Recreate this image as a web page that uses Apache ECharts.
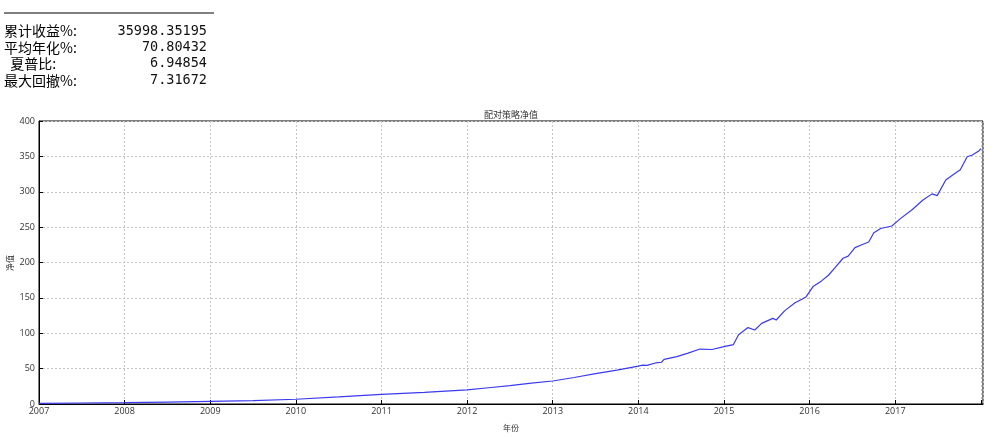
<!DOCTYPE html>
<html><head><meta charset="utf-8">
<script src="https://cdn.jsdelivr.net/npm/echarts@6/dist/echarts.min.js"></script>
<style>html,body{margin:0;padding:0;background:#fff}#c{width:999px;height:437px}</style>
</head><body><div id="c"></div>
<script>
const chartTitle = '配对策略净值';
const xName = '年份';
const yName = '净值';
const statLabels = ['累计收益%:', '平均年化%:', '  夏普比:', '最大回撤%:'];
const statValues = ['35998.35195', '70.80432', '6.94854', '7.31672'];
const yearTicks = [2007, 2008, 2009, 2010, 2011, 2012, 2013, 2014, 2015, 2016, 2017];
const years = [2007.0, 2007.5, 2008.0, 2008.5, 2009.0, 2009.5, 2010.0, 2010.5, 2011.0, 2011.5,
  2012.0, 2012.25, 2012.5, 2012.75, 2013.0, 2013.25, 2013.5, 2013.75, 2014.0, 2014.05,
  2014.1, 2014.2, 2014.27, 2014.3, 2014.45, 2014.58, 2014.72, 2014.86, 2015.0, 2015.11,
  2015.17, 2015.28, 2015.36, 2015.44, 2015.57, 2015.61, 2015.71, 2015.83, 2015.91, 2015.96,
  2016.04, 2016.14, 2016.22, 2016.3, 2016.39, 2016.45, 2016.53, 2016.61, 2016.69, 2016.75,
  2016.83, 2016.96, 2017.06, 2017.2, 2017.32, 2017.43, 2017.49, 2017.59, 2017.7, 2017.76,
  2017.84, 2017.9, 2017.98, 2018.0];
const netValues = [1.0, 1.4, 2.0, 2.7, 3.6, 4.8, 6.7, 10, 13.5, 16.5,
  20, 23, 26, 29.5, 32.5, 37.5, 43, 48, 53.5, 55,
  54.5, 58, 59, 63, 67, 72, 77.7, 77, 81, 84,
  98, 108, 104.6, 114, 121, 118.7, 132, 143, 148, 151.7,
  166, 174, 182, 193, 206, 209, 221, 225, 229, 242,
  248, 251.6, 262, 275, 288, 297, 294.5, 316.6, 326, 331,
  349.5, 352, 358, 361];

const chart = echarts.init(document.getElementById('c'), null, {renderer: 'canvas'});
const tickFont = {fontFamily: '"Liberation Sans Narrow", "Open Sans"', fontSize: 9, color: '#333'};
const graphics = [
  {type: 'line', shape: {x1: 4, y1: 13, x2: 214, y2: 13}, style: {stroke: '#000', lineWidth: 1}},
  {type: 'text', x: 10, y: 263, rotation: Math.PI / 2,
    style: {text: yName, font: '8px "Noto Sans CJK SC"', fill: '#333', align: 'center', verticalAlign: 'middle'}}
];
statLabels.forEach((l, i) => {
  graphics.push({type: 'text', x: 4, y: 24 + i * 16.4, style: {text: l, font: '14px "Noto Sans CJK SC"', fill: '#000'}});
  graphics.push({type: 'text', x: 207, y: 24 + i * 16.4, style: {text: statValues[i], font: '13.5px "DejaVu Sans Mono"', fill: '#111', align: 'right'}});
});
chart.setOption({
  animation: false,
  backgroundColor: '#fff',
  title: {text: chartTitle, left: 511, textAlign: 'center', top: 110, padding: 0,
    textStyle: {fontSize: 9, fontWeight: 'normal', color: '#333', fontFamily: 'Noto Sans CJK SC'}},
  grid: {left: 39, right: 16, top: 121, bottom: 33, containLabel: false, outerBoundsMode: 'none',
    show: true, borderColor: '#000', borderWidth: 1, backgroundColor: 'transparent'},
  xAxis: {type: 'value', min: 2007, max: 2018.025, interval: 1,
    name: xName, nameLocation: 'middle', nameGap: 20,
    nameTextStyle: {fontSize: 8, color: '#333', fontFamily: 'Noto Sans CJK SC'},
    axisLine: {show: true, lineStyle: {color: '#000'}},
    axisTick: {show: true, inside: true, length: 4, lineStyle: {color: '#000'}},
    axisLabel: Object.assign({margin: 3, showMaxLabel: false,
      formatter: v => yearTicks.indexOf(Math.round(v)) >= 0 ? String(Math.round(v)) : ''}, tickFont),
    splitLine: {show: true, lineStyle: {color: '#c4c4c4', type: [2, 2], width: 1}}},
  yAxis: {type: 'value', min: 0, max: 400, interval: 50,
    axisLine: {show: true, lineStyle: {color: '#000'}},
    axisTick: {show: true, inside: true, length: 4, lineStyle: {color: '#000'}},
    axisLabel: Object.assign({margin: 4}, tickFont),
    splitLine: {show: true, lineStyle: {color: '#c4c4c4', type: [2, 2], width: 1}}},
  series: [{type: 'line', data: years.map((y, i) => [y, netValues[i]]), showSymbol: false,
    lineStyle: {color: '#3a3af0', width: 1.2}, itemStyle: {color: '#3a3af0'}}],
  graphic: graphics
});
</script></body></html>
